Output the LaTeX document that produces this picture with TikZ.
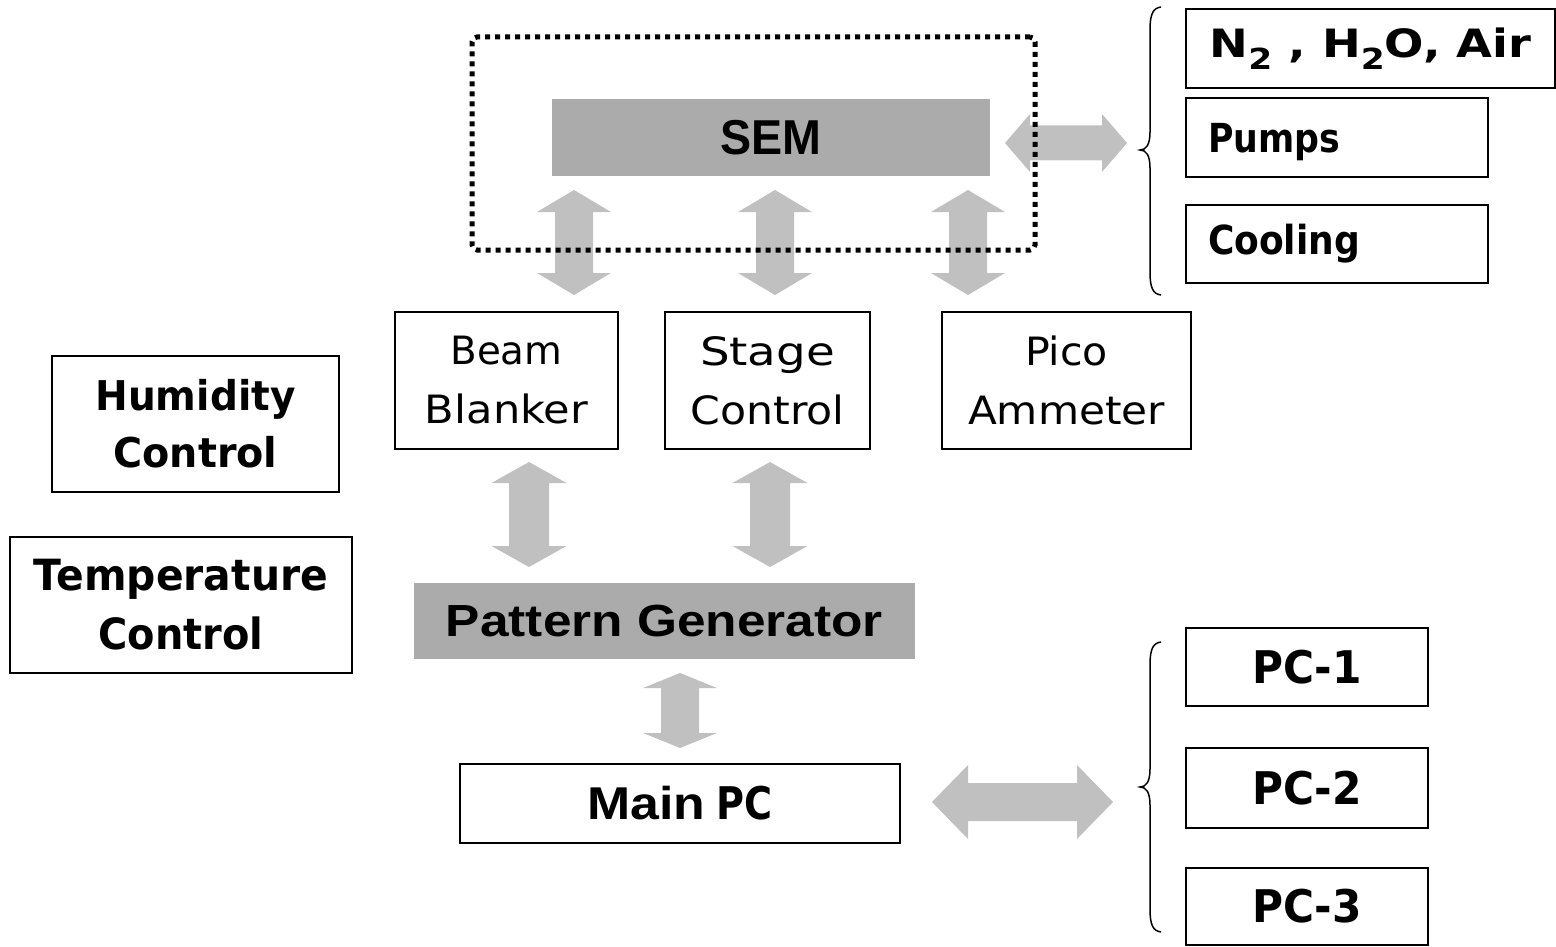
\documentclass[tikz,border=0pt]{standalone}
\usepackage{fontspec}
\usepackage{graphicx}
\usetikzlibrary{calc}
\newfontfamily\arialf{Liberation Sans}
\newfontfamily\comicf{DejaVu Sans}
\newcommand\tw[2]{\resizebox{#1pt}{\height}{#2}}
\newcommand\subtwo{\raisebox{-0.3em}{\fontsize{29}{29}\selectfont 2}}
\definecolor{arrowgray}{RGB}{192,192,192}
\definecolor{boxgray}{RGB}{171,171,171}
% vertical double block arrow between two named coordinates (top, bottom)
\newcommand\vdarrow[5]{%
  \fill[arrowgray] (#1) -- ($(#1)+(#4,#5)$) -- ($(#1)+(#3,#5)$) -- ($(#2)+(#3,-#5)$) -- ($(#2)+(#4,-#5)$) -- (#2)
   -- ($(#2)+(-#4,-#5)$) -- ($(#2)+(-#3,-#5)$) -- ($(#1)+(-#3,#5)$) -- ($(#1)+(-#4,#5)$) -- cycle;}
% horizontal double block arrow between two named coordinates (left, right)
\newcommand\hdarrow[5]{%
  \fill[arrowgray] (#1) -- ($(#1)+(#5,-#4)$) -- ($(#1)+(#5,-#3)$) -- ($(#2)+(-#5,-#3)$) -- ($(#2)+(-#5,-#4)$) -- (#2)
   -- ($(#2)+(-#5,#4)$) -- ($(#2)+(-#5,#3)$) -- ($(#1)+(#5,#3)$) -- ($(#1)+(#5,#4)$) -- cycle;}
\tikzset{
  box/.style={draw, line width=2pt, inner sep=0pt, align=center},
  graybox/.style={fill=boxgray, inner sep=0pt, align=center},
  regtext/.style={font=\comicf\fontsize{39}{59}\selectfont},
  boldtext/.style={font=\comicf\bfseries\fontsize{41}{57}\selectfont},
  pctext/.style={font=\comicf\bfseries\fontsize{45}{45}\selectfont},
  leftbox/.style={box, text width=258pt, inner xsep=22pt, align=left, font=\comicf\bfseries\fontsize{40}{40}\selectfont},
  vacuum/.style={draw, line width=5pt, dash pattern=on 5pt off 5pt, rounded corners=5pt, inner sep=0pt},
  bracestyle/.style={line width=1.5pt}
}
\begin{document}
\begin{tikzpicture}[x=1pt,y=-1pt]
\useasboundingbox (0,0) rectangle (1556,947);

% SEM
\node[graybox, minimum width=438pt, minimum height=77pt] (sem) at (771,137.5)
  {\arialf\bfseries\fontsize{49}{49}\selectfont\tw{101}{SEM}};

% second row
\node[box, regtext, minimum width=223pt, minimum height=137pt] (bb) at (506.5,380.5) {\tw{112}{Beam}\\\tw{163}{Blanker}};
\node[box, regtext, minimum width=205pt, minimum height=137pt] (sc) at (767.5,380.5) {\tw{135}{Stage}\\\tw{154}{Control}};
\node[box, regtext, minimum width=249pt, minimum height=137pt] (pa) at (1066.5,380.5) {\tw{83}{Pico}\\\tw{197}{Ammeter}};

% left boxes
\node[box, boldtext, minimum width=287pt, minimum height=136pt] (hum) at (195.5,424) {\tw{200}{Humidity}\\\tw{164}{Control}};
\node[box, font=\comicf\bfseries\fontsize{43}{59}\selectfont, minimum width=342pt, minimum height=136pt] (tem) at (181,605) {\tw{294}{Temperature}\\\tw{165}{Control}};

% pattern generator
\node[graybox, minimum width=501pt, minimum height=76pt] (pg) at (664.5,621)
  {\arialf\bfseries\fontsize{45}{45}\selectfont\tw{437}{Pattern Generator}};

% main PC
\node[box, minimum width=440pt, minimum height=79pt] (main) at (680,803.5)
  {\arialf\bfseries\fontsize{46}{46}\selectfont\tw{118}{Main}\hspace{11pt}{\comicf\bfseries\fontsize{45}{45}\selectfont\tw{56}{PC}}};

% PCs
\node[box, pctext, minimum width=242pt, minimum height=78pt] (pc1) at (1307,667) {\tw{110}{PC-1}};
\node[box, pctext, minimum width=242pt, minimum height=80pt] (pc2) at (1307,788) {\tw{110}{PC-2}};
\node[box, pctext, minimum width=242pt, minimum height=77pt] (pc3) at (1307,906.5) {\tw{110}{PC-3}};

% utilities
\node[box, font=\comicf\bfseries\fontsize{39}{39}\selectfont, minimum width=369pt, minimum height=79pt] (gas) at (1370.5,48.5)
  {\tw{322}{N\subtwo\ , H\subtwo O, Air}};
\node[leftbox, text depth=0pt, minimum height=79pt] (pumps) at (1337,137.5) {\tw{132}{Pumps}};
\node[leftbox, minimum height=78pt] (cool) at (1337,244) {\tw{152}{Cooling}};

% arrow end coordinates
\coordinate (a1t) at (574,190);  \coordinate (a1b) at (574,295);
\coordinate (a2t) at (775,190);  \coordinate (a2b) at (775,295);
\coordinate (a3t) at (968,190);  \coordinate (a3b) at (968,295);
\coordinate (b1t) at (529,462);  \coordinate (b1b) at (529,567);
\coordinate (b2t) at (770,462);  \coordinate (b2b) at (770,567);
\coordinate (ct) at (680,673);   \coordinate (cb) at (680,748);
\coordinate (hl) at (1005,143);  \coordinate (hr) at (1127,143);
\coordinate (ml) at (932,802);   \coordinate (mr) at (1113,802);

\vdarrow{a1t}{a1b}{19}{37}{22}
\vdarrow{a2t}{a2b}{19}{37}{22}
\vdarrow{a3t}{a3b}{19}{37}{22}
\vdarrow{b1t}{b1b}{20}{37.5}{21}
\vdarrow{b2t}{b2b}{20}{37.5}{21}
\vdarrow{ct}{cb}{19}{37}{15}
\hdarrow{hl}{hr}{17.5}{29}{25}
\hdarrow{ml}{mr}{19}{37}{36}

% vacuum enclosure (dotted)
\node[vacuum, minimum width=563pt, minimum height=213pt] (vac) at (753.5,143.5) {};

% braces
\draw[bracestyle] (1161,7) .. controls (1153,8) and (1150,14) .. (1150,30) -- (1150,132)
  .. controls (1150,145) and (1146,150) .. (1140,150)
  .. controls (1146,150) and (1150,155) .. (1150,168) -- (1150,272)
  .. controls (1150,288) and (1153,294) .. (1161,295);
\draw[bracestyle] (1161,642) .. controls (1153,643) and (1150,649) .. (1150,665) -- (1150,769)
  .. controls (1150,782) and (1146,787) .. (1140,787)
  .. controls (1146,787) and (1150,792) .. (1150,805) -- (1150,909)
  .. controls (1150,925) and (1153,931) .. (1161,932);
\end{tikzpicture}
\end{document}
